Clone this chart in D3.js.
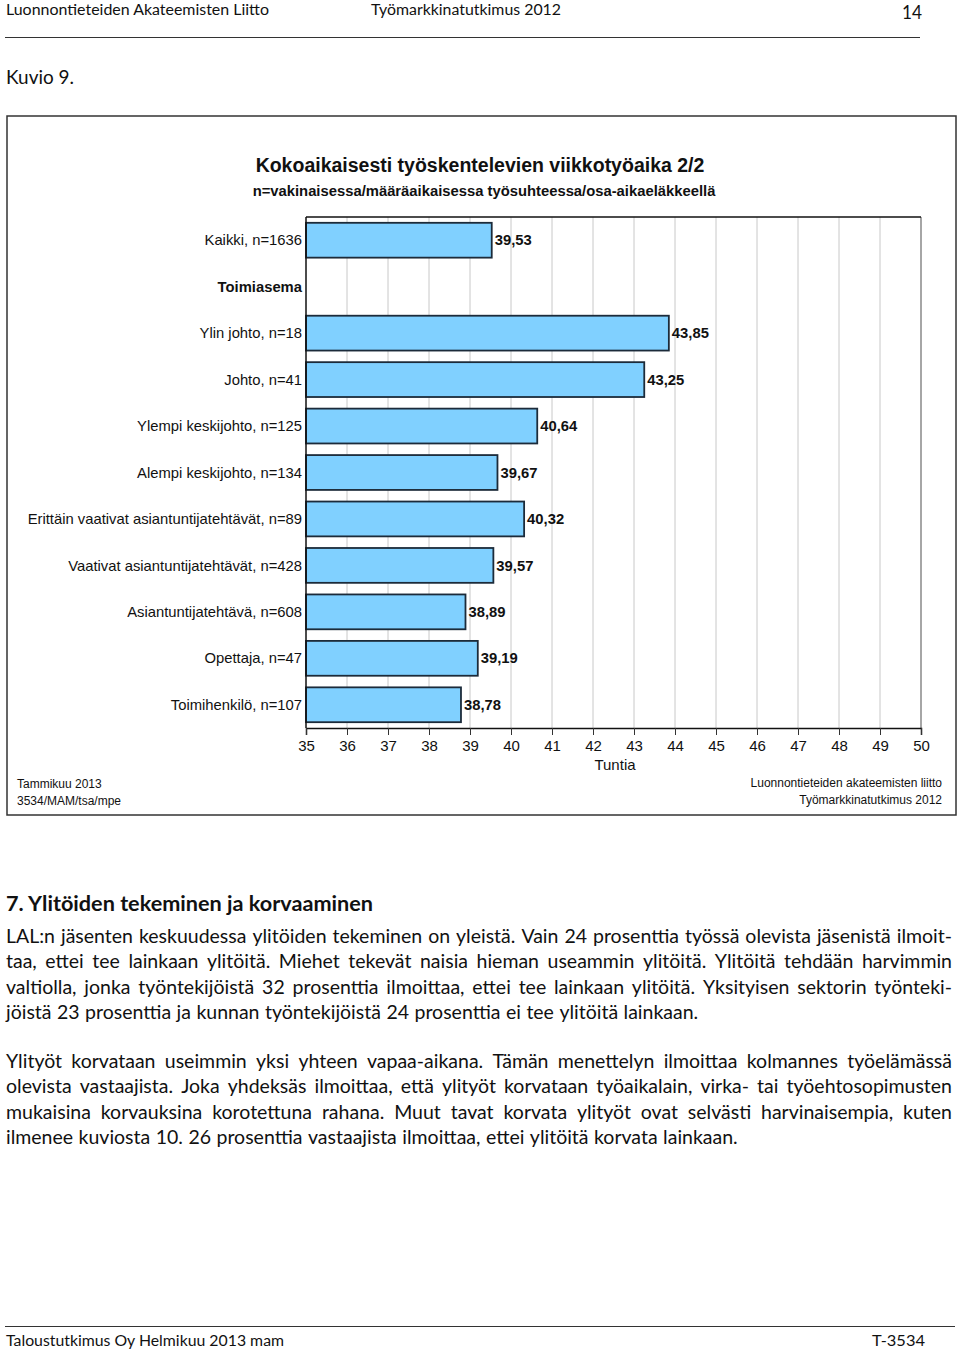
<!DOCTYPE html>
<html>
<head>
<meta charset="utf-8">
<script src="https://cdn.jsdelivr.net/npm/d3@7"></script>
<style>
  body { margin: 0; background: #fff; }
  svg { display: block; }
</style>
</head>
<body>
<script>
// chart data
const categories = [
  "Kaikki, n=1636", "Toimiasema", "Ylin johto, n=18", "Johto, n=41",
  "Ylempi keskijohto, n=125", "Alempi keskijohto, n=134",
  "Erittäin vaativat asiantuntijatehtävät, n=89",
  "Vaativat asiantuntijatehtävät, n=428", "Asiantuntijatehtävä, n=608",
  "Opettaja, n=47", "Toimihenkilö, n=107"
];
const hours = [39.53, null, 43.85, 43.25, 40.64, 39.67, 40.32, 39.57, 38.89, 39.19, 38.78];
const boldCategories = ["Toimiasema"];
const xTicks = d3.range(35, 51);

// page text
const para1 = [
  "LAL:n jäsenten keskuudessa ylitöiden tekeminen on yleistä. Vain 24 prosenttia työssä olevista jäsenistä ilmoit-",
  "taa, ettei tee lainkaan ylitöitä. Miehet tekevät naisia hieman useammin ylitöitä. Ylitöitä tehdään harvimmin",
  "valtiolla, jonka työntekijöistä 32 prosenttia ilmoittaa, ettei tee lainkaan ylitöitä. Yksityisen sektorin työnteki-",
  "jöistä 23 prosenttia ja kunnan työntekijöistä 24 prosenttia ei tee ylitöitä lainkaan."
];
const para2 = [
  "Ylityöt korvataan useimmin yksi yhteen vapaa-aikana. Tämän menettelyn ilmoittaa kolmannes työelämässä",
  "olevista vastaajista. Joka yhdeksäs ilmoittaa, että ylityöt korvataan työaikalain, virka- tai työehtosopimusten",
  "mukaisina korvauksina korotettuna rahana. Muut tavat korvata ylityöt ovat selvästi harvinaisempia, kuten",
  "ilmenee kuviosta 10. 26 prosenttia vastaajista ilmoittaa, ettei ylitöitä korvata lainkaan."
];

const W = 960, H = 1352;
const svg = d3.select("body").append("svg").attr("width", W).attr("height", H);
const docFont = "Lato, 'Open Sans', sans-serif";
const chartFont = "'Liberation Sans', Arial, sans-serif";

// fixed-width single line (page header/footer)
function fitText(x, y, str, size, width, anchor, weight) {
  return svg.append("text")
    .attr("x", x).attr("y", y)
    .attr("font-family", docFont).attr("font-size", size)
    .attr("font-weight", weight || "normal")
    .attr("text-anchor", anchor || "start")
    .attr("fill", "#111")
    .attr("textLength", width).attr("lengthAdjust", "spacingAndGlyphs")
    .text(str);
}

fitText(6, 15, "Luonnontieteiden Akateemisten Liitto", 15.5, 263);
fitText(371, 15, "Työmarkkinatutkimus 2012", 15.5, 190);
fitText(902, 19, "14", 19, 20);
svg.append("line").attr("x1", 5).attr("x2", 920).attr("y1", 37.5).attr("y2", 37.5)
  .attr("stroke", "#333").attr("stroke-width", 1);
fitText(6, 84, "Kuvio 9.", 19.5, 68);

// justified paragraph lines, one text element per word
function paragraph(lines, y0, lh) {
  const fs = 19.5, x0 = 6, width = 946;
  lines.forEach((line, li) => {
    const y = y0 + li * lh;
    const words = line.split(" ");
    const last = li === lines.length - 1;
    const g = svg.append("g");
    const texts = words.map(w => g.append("text").attr("y", y)
      .attr("font-family", docFont).attr("font-size", fs).attr("fill", "#111").text(w));
    const widths = texts.map(t => t.node().getComputedTextLength());
    const sum = d3.sum(widths);
    let gap = last ? fs * 0.28 : (width - sum) / (words.length - 1);
    let k = 1;
    if (gap < fs * 0.2) {
      gap = fs * 0.2;
      k = (width - gap * (words.length - 1)) / sum;
    }
    let x = x0;
    texts.forEach((t, i) => {
      if (k !== 1) t.attr("textLength", widths[i] * k).attr("lengthAdjust", "spacingAndGlyphs");
      t.attr("x", x);
      x += widths[i] * k + gap;
    });
  });
}

svg.append("text").attr("x", 6).attr("y", 911)
  .attr("font-family", docFont).attr("font-size", 21).attr("font-weight", "bold")
  .attr("fill", "#111").attr("textLength", 367).attr("lengthAdjust", "spacingAndGlyphs")
  .text("7. Ylitöiden tekeminen ja korvaaminen");
paragraph(para1, 943, 25.4);
paragraph(para2, 1068, 25.4);

svg.append("line").attr("x1", 5).attr("x2", 955).attr("y1", 1326.5).attr("y2", 1326.5)
  .attr("stroke", "#333").attr("stroke-width", 1);
fitText(6, 1346, "Taloustutkimus Oy Helmikuu 2013 mam", 15.5, 278);
fitText(925, 1346, "T-3534", 15.5, 53, "end");

// chart frame
svg.append("rect").attr("x", 7).attr("y", 116).attr("width", 949).attr("height", 699)
  .attr("fill", "#fff").attr("stroke", "#333").attr("stroke-width", 1.5);

svg.append("text").attr("x", 480).attr("y", 172).attr("text-anchor", "middle")
  .attr("font-family", chartFont).attr("font-size", 19.5).attr("font-weight", "bold")
  .attr("fill", "#111").text("Kokoaikaisesti työskentelevien viikkotyöaika 2/2");
svg.append("text").attr("x", 484).attr("y", 196).attr("text-anchor", "middle")
  .attr("font-family", chartFont).attr("font-size", 14.8).attr("font-weight", "bold")
  .attr("fill", "#111").text("n=vakinaisessa/määräaikaisessa työsuhteessa/osa-aikaeläkkeellä");

const plot = { left: 306, right: 921, top: 217, bottom: 728 };
const x = d3.scaleLinear().domain([35, 50]).range([plot.left, plot.right]);
const y = d3.scaleBand().domain(categories).range([plot.top, plot.bottom])
  .paddingInner(0.25).paddingOuter(0.125);

const chart = svg.append("g");

// gridlines
chart.append("g").selectAll("line").data(xTicks.slice(1, -1)).join("line")
  .attr("x1", d => x(d)).attr("x2", d => x(d))
  .attr("y1", plot.top).attr("y2", plot.bottom)
  .attr("stroke", "#c8c8c8").attr("stroke-width", 1);
chart.append("line").attr("x1", plot.right).attr("x2", plot.right)
  .attr("y1", plot.top).attr("y2", plot.bottom).attr("stroke", "#888").attr("stroke-width", 1.5);
chart.append("line").attr("x1", plot.left).attr("x2", plot.right)
  .attr("y1", plot.top).attr("y2", plot.top).attr("stroke", "#111").attr("stroke-width", 1.5);

// bars
const rows = categories.map((c, i) => ({ c, v: hours[i] }));
chart.append("g").selectAll("rect").data(rows.filter(d => d.v != null)).join("rect")
  .attr("x", x(35)).attr("y", d => y(d.c))
  .attr("width", d => x(d.v) - x(35)).attr("height", y.bandwidth())
  .attr("fill", "#80d0ff").attr("stroke", "#1c2b3a").attr("stroke-width", 1.8);

chart.append("g").selectAll("text").data(rows.filter(d => d.v != null)).join("text")
  .attr("x", d => x(d.v) + 3).attr("y", d => y(d.c) + y.bandwidth() / 2)
  .attr("dy", "0.35em")
  .attr("font-family", chartFont).attr("font-size", 14.8).attr("font-weight", "bold")
  .attr("fill", "#111")
  .text(d => d3.format(".2f")(d.v).replace(".", ","));

// category labels
chart.append("g").selectAll("text").data(categories).join("text")
  .attr("x", 302).attr("y", d => y(d) + y.bandwidth() / 2).attr("dy", "0.35em")
  .attr("text-anchor", "end")
  .attr("font-family", chartFont).attr("font-size", 14.8)
  .attr("font-weight", d => boldCategories.includes(d) ? "bold" : "normal")
  .attr("fill", "#111").text(d => d);

// axes
const xAxis = chart.append("g").attr("transform", `translate(0,${plot.bottom})`)
  .call(d3.axisBottom(x).tickValues(xTicks).tickSize(7).tickPadding(5).tickFormat(d3.format("d")));
xAxis.select(".domain").attr("stroke", "#111").attr("stroke-width", 1.5);
xAxis.selectAll(".tick line").attr("stroke", "#333");
xAxis.selectAll(".tick text").attr("font-family", chartFont).attr("font-size", 15).attr("fill", "#111");
chart.append("line").attr("x1", plot.left).attr("x2", plot.left)
  .attr("y1", plot.top).attr("y2", plot.bottom).attr("stroke", "#111").attr("stroke-width", 1.5);

chart.append("text").attr("x", 615).attr("y", 770).attr("text-anchor", "middle")
  .attr("font-family", chartFont).attr("font-size", 15).attr("fill", "#111").text("Tuntia");

const note = (xx, yy, s, anchor) => chart.append("text").attr("x", xx).attr("y", yy)
  .attr("text-anchor", anchor).attr("font-family", chartFont).attr("font-size", 12)
  .attr("fill", "#111").text(s);
note(17, 788, "Tammikuu 2013", "start");
note(17, 805, "3534/MAM/tsa/mpe", "start");
note(942, 787, "Luonnontieteiden akateemisten liitto", "end");
note(942, 804, "Työmarkkinatutkimus 2012", "end");
</script>
</body>
</html>
